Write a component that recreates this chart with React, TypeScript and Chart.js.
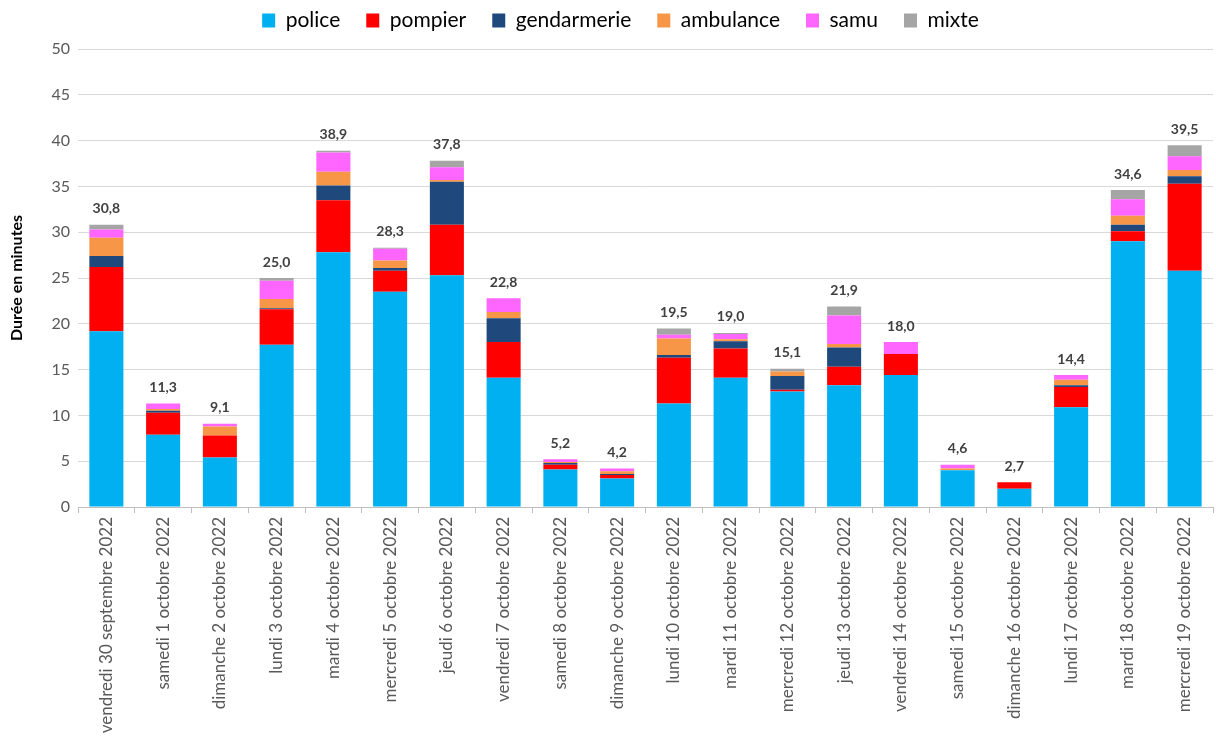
import React, { useEffect, useRef } from 'react';
import { Chart, registerables } from 'chart.js';

Chart.register(...registerables);

const categories = [
  'vendredi 30 septembre 2022',
  'samedi 1 octobre 2022',
  'dimanche 2 octobre 2022',
  'lundi 3 octobre 2022',
  'mardi 4 octobre 2022',
  'mercredi 5 octobre 2022',
  'jeudi 6 octobre 2022',
  'vendredi 7 octobre 2022',
  'samedi 8 octobre 2022',
  'dimanche 9 octobre 2022',
  'lundi 10 octobre 2022',
  'mardi 11 octobre 2022',
  'mercredi 12 octobre 2022',
  'jeudi 13 octobre 2022',
  'vendredi 14 octobre 2022',
  'samedi 15 octobre 2022',
  'dimanche 16 octobre 2022',
  'lundi 17 octobre 2022',
  'mardi 18 octobre 2022',
  'mercredi 19 octobre 2022',
];

const police = [19.2, 7.9, 5.4, 17.7, 27.8, 23.5, 25.3, 14.1, 4.1, 3.1, 11.3, 14.1, 12.6, 13.3, 14.4, 4.0, 2.0, 10.9, 29.0, 25.8];
const pompier = [7.0, 2.4, 2.4, 3.9, 5.7, 2.3, 5.5, 3.9, 0.5, 0.4, 5.0, 3.2, 0.2, 2.0, 2.3, 0, 0.7, 2.2, 1.1, 9.5];
const gendarmerie = [1.2, 0.2, 0, 0.1, 1.6, 0.3, 4.7, 2.6, 0.2, 0.1, 0.3, 0.8, 1.5, 2.1, 0, 0, 0, 0.2, 0.7, 0.8];
const ambulance = [2.0, 0.2, 1.0, 1.0, 1.5, 0.8, 0.2, 0.7, 0.1, 0.3, 1.8, 0.2, 0.5, 0.4, 0, 0.2, 0, 0.6, 1.0, 0.7];
const samu = [0.9, 0.6, 0.3, 2.0, 2.1, 1.3, 1.4, 1.5, 0.3, 0.3, 0.4, 0.6, 0, 3.1, 1.3, 0.4, 0, 0.5, 1.8, 1.5];
const mixte = [0.5, 0, 0, 0.3, 0.2, 0.1, 0.7, 0, 0, 0, 0.7, 0.1, 0.3, 1.0, 0, 0, 0, 0, 1.0, 1.2];

const yTicks = [0, 5, 10, 15, 20, 25, 30, 35, 40, 45, 50];

const FONT = 'Lato, "DejaVu Sans", sans-serif';

const LAYOUT_TOP = -16;
const PLOT_TOP = 49;
const LEGEND_SHIFT = 14;

const legendFitPlugin = {
  id: 'legendFit',
  beforeLayout(chart: any) {
    const lg = chart.legend;
    if (lg && !lg.__patched) {
      const orig = lg.fit;
      lg.fit = function () {
        orig.call(this);
        this.height = PLOT_TOP - LAYOUT_TOP;
      };
      lg.__patched = true;
    }
  },
  afterLayout(chart: any) {
    const lg = chart.legend;
    if (lg) {
      lg.left += LEGEND_SHIFT;
      lg.right += LEGEND_SHIFT;
    }
  },
};

const totalsPlugin = {
  id: 'totals',
  afterDatasetsDraw(chart: any) {
    const ctx = chart.ctx;
    const yScale = chart.scales.y;
    const xScale = chart.scales.x;
    ctx.save();
    ctx.font = `bold 14px ${FONT}`;
    ctx.fillStyle = '#404040';
    ctx.textAlign = 'center';
    ctx.textBaseline = 'bottom';
    categories.forEach((_, i) => {
      let total = 0;
      chart.data.datasets.forEach((ds: any) => {
        total += ds.data[i] || 0;
      });
      const x = xScale.getPixelForValue(i);
      const y = yScale.getPixelForValue(total);
      ctx.fillText(total.toFixed(1).replace('.', ','), x, y - 9);
    });
    ctx.restore();
  },
};

export default function App() {
  const ref = useRef<HTMLCanvasElement>(null);

  useEffect(() => {
    document.body.style.margin = '0';
    if (!ref.current) return;
    const mk = (label: string, data: number[], color: string) => ({
      label,
      data,
      backgroundColor: color,
      borderWidth: 0,
      barPercentage: 0.6,
      categoryPercentage: 1.0,
    });
    const chart = new Chart(ref.current, {
      type: 'bar',
      data: {
        labels: categories,
        datasets: [
          mk('police', police, '#00B0F0'),
          mk('pompier', pompier, '#FF0000'),
          mk('gendarmerie', gendarmerie, '#1F497D'),
          mk('ambulance', ambulance, '#F79646'),
          mk('samu', samu, '#FF66FF'),
          mk('mixte', mixte, '#A5A5A5'),
        ],
      },
      options: {
        animation: false,
        responsive: false,
        maintainAspectRatio: false,
        layout: { padding: { left: 0, right: 3, top: LAYOUT_TOP, bottom: 0 } },
        plugins: {
          legend: {
            position: 'top',
            labels: {
              boxWidth: 13,
              boxHeight: 14,
              padding: 26,
              color: '#000000',
              font: { family: FONT, size: 21 },
            },
          },
          tooltip: { enabled: false },
        },
        scales: {
          x: {
            stacked: true,
            grid: {
              drawOnChartArea: false,
              drawTicks: true,
              tickLength: 6,
              color: '#BFBFBF',
              offset: true,
            },
            border: { color: '#BFBFBF', width: 1 },
            ticks: {
              autoSkip: false,
              maxRotation: 90,
              minRotation: 90,
              padding: 4,
              color: '#595959',
              font: { family: FONT, size: 17 },
            },
            afterFit: (scale: any) => {
              scale.height = 231;
            },
          },
          y: {
            stacked: true,
            min: 0,
            max: 50,
            afterBuildTicks: (scale: any) => {
              scale.ticks = yTicks.map((v) => ({ value: v }));
            },
            grid: { color: '#D9D9D9', drawTicks: false },
            border: { display: false },
            ticks: {
              padding: 8,
              color: '#595959',
              font: { family: FONT, size: 16 },
            },
            title: {
              display: true,
              text: 'Durée en minutes',
              color: '#000000',
              font: { family: FONT, size: 16, weight: 'bold' },
              padding: { top: 7, bottom: 0 },
            },
            afterFit: (scale: any) => {
              scale.width = 78;
            },
          },
        },
      },
      plugins: [legendFitPlugin, totalsPlugin],
    });
    return () => chart.destroy();
  }, []);

  return (
    <div style={{ position: 'fixed', left: 0, top: 0, width: 1216, height: 738, background: '#fff' }}>
      <canvas ref={ref} width={1216} height={738} style={{ width: 1216, height: 738 }} />
    </div>
  );
}
